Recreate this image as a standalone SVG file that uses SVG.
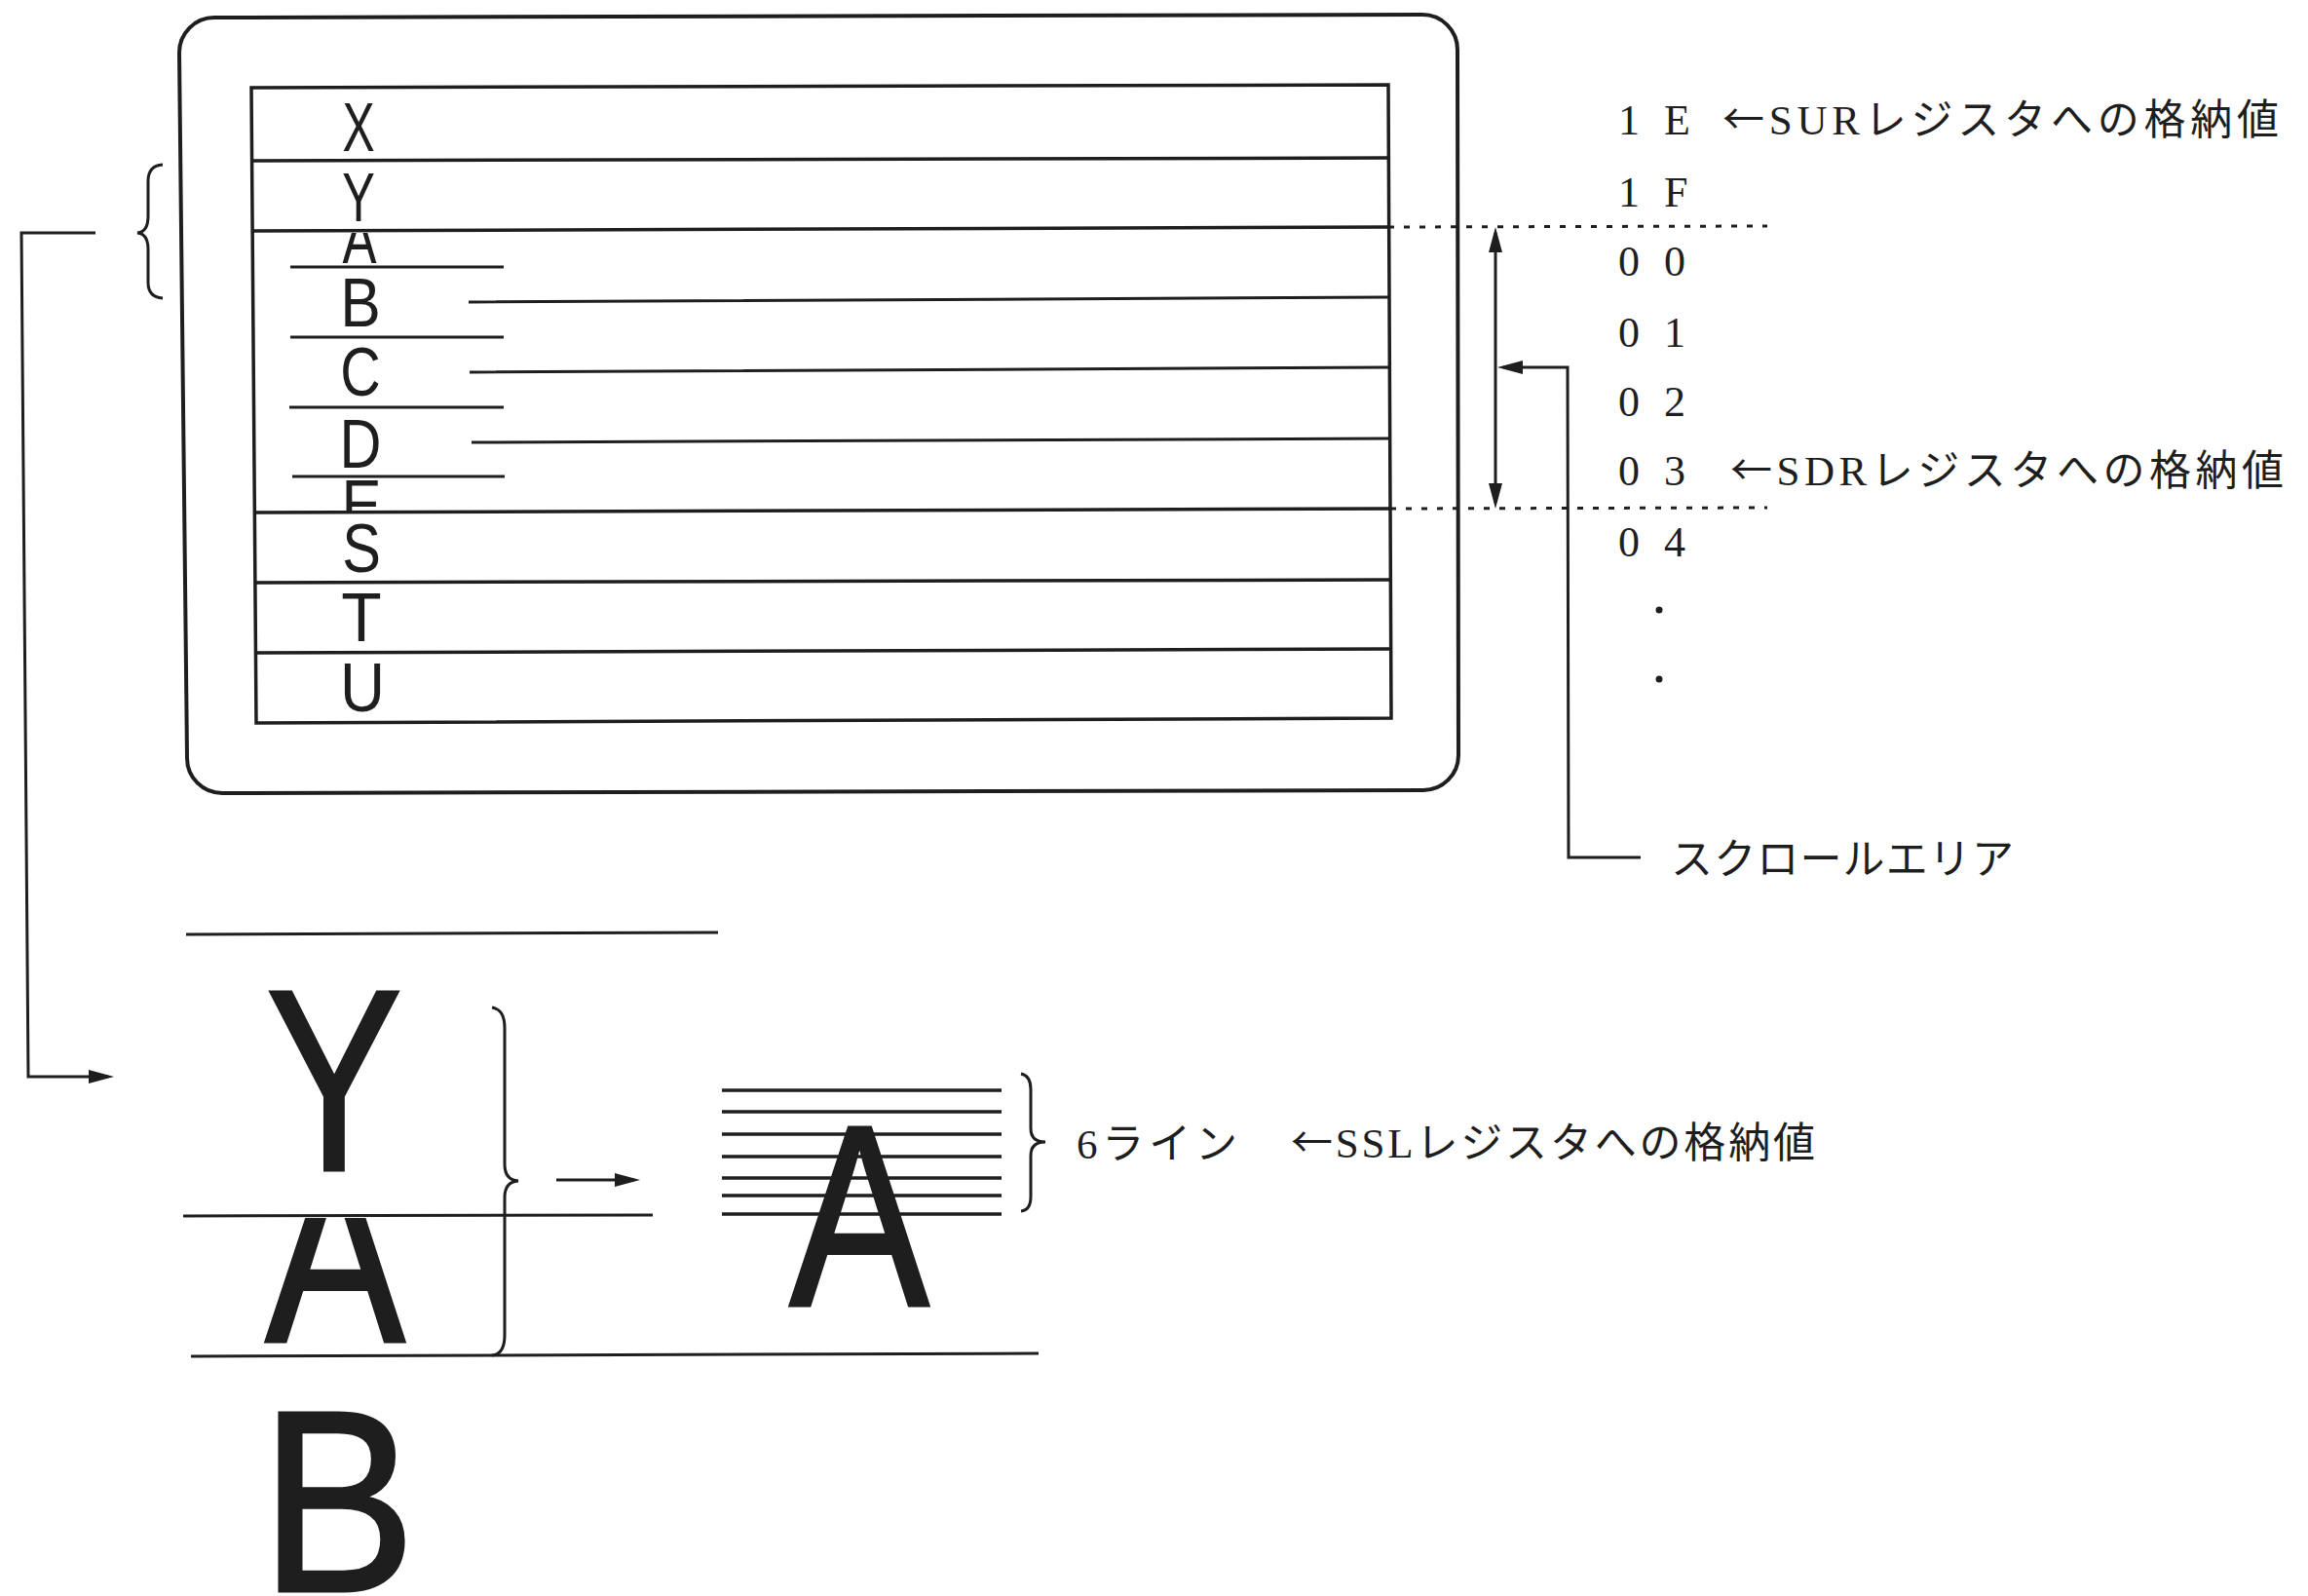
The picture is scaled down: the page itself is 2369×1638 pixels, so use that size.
<svg xmlns="http://www.w3.org/2000/svg" width="2369" height="1638" viewBox="0 0 2369 1638">
<style>
.ln{stroke:#1e1e1e;stroke-width:3.5;fill:none}
.th{stroke:#1e1e1e;stroke-width:3;fill:none}
.dt{stroke:#1e1e1e;stroke-width:3;stroke-dasharray:6 10;fill:none}
.sm{font-family:"Liberation Sans",Arial,sans-serif;font-size:70px;fill:#1e1e1e;text-anchor:middle}
.big{font-family:"Liberation Sans",Arial,sans-serif;font-size:266px;fill:#1e1e1e;stroke:#1e1e1e;stroke-width:3;text-anchor:middle}
.hex{font-family:"Liberation Serif","Noto Sans CJK JP",serif;font-size:44px;fill:#1e1e1e;letter-spacing:7px}
.jp{font-family:"Liberation Serif","Noto Sans CJK JP",serif;font-size:43px;fill:#1e1e1e}
.ar{font-family:"Noto Sans CJK JP",sans-serif}
</style>
<defs>
<marker id="ah" viewBox="0 0 26 14" refX="20" refY="7" markerWidth="26" markerHeight="14" markerUnits="userSpaceOnUse" orient="auto-start-reverse"><path d="M0,0 L26,7 L0,14 Z" fill="#1e1e1e"/></marker>
<clipPath id="cA"><rect x="300" y="239" width="150" height="34"/></clipPath>
<clipPath id="cE"><rect x="300" y="480" width="150" height="44"/></clipPath>
<clipPath id="cBigA"><rect x="200" y="1250" width="300" height="140"/></clipPath>
</defs>
<rect width="2369" height="1638" fill="#ffffff"/>

<g id="screen">
<path class="ln" style="stroke-width:4" d="M220,18 L1460,15 A36,36 0 0 1 1496,51 L1497,775 A36,36 0 0 1 1461,811 L228,814 A36,36 0 0 1 192,778 L184,54 A36,36 0 0 1 220,18 Z"/>
<path class="ln" d="M258,90 L1425,87 L1428,737 L263,742 Z"/>
<path class="ln" d="M258,165 L1425,162 M258,237 L1425,233 M260,526 L1427,522 M261,598 L1427,595 M262,670 L1428,666"/>
<path class="th" d="M481,310 L1425,305 M482,382 L1425,377 M484,454 L1426,450"/>
<path class="th" d="M298,274 L517,274 M298,346 L517,346 M297,418 L517,418 M300,489 L518,489"/>
</g>

<g id="rows">
<text class="sm" transform="translate(368,155) scale(0.71,1)">X</text>
<text class="sm" transform="translate(368,227) scale(0.72,1)">Y</text>
<g clip-path="url(#cA)"><text class="sm" transform="translate(369,270) scale(0.75,1)">A</text></g>
<text class="sm" transform="translate(370,335) scale(0.89,1)">B</text>
<text class="sm" transform="translate(370,406) scale(0.82,1)">C</text>
<text class="sm" transform="translate(370,480) scale(0.85,1)">D</text>
<g clip-path="url(#cE)"><text class="sm" transform="translate(371,542) scale(0.88,1)">E</text></g>
<text class="sm" transform="translate(371,587) scale(0.85,1)">S</text>
<text class="sm" transform="translate(371,658) scale(0.97,1)">T</text>
<text class="sm" transform="translate(372,730) scale(0.91,1)">U</text>
</g>

<g id="addresses">
<text class="hex" x="1661" y="138" xml:space="preserve">1 E</text>
<text class="hex" x="1661" y="212" xml:space="preserve">1 F</text>
<text class="hex" x="1661" y="283" xml:space="preserve">0 0</text>
<text class="hex" x="1661" y="356" xml:space="preserve">0 1</text>
<text class="hex" x="1661" y="427" xml:space="preserve">0 2</text>
<text class="hex" x="1661" y="498" xml:space="preserve">0 3</text>
<text class="hex" x="1661" y="571" xml:space="preserve">0 4</text>
<circle cx="1703" cy="626" r="3.5" fill="#1e1e1e"/>
<circle cx="1703" cy="697" r="3.5" fill="#1e1e1e"/>
</g>

<g id="labels">
<text class="jp" x="1768" y="138" textLength="571" lengthAdjust="spacing"><tspan class="ar">←</tspan>SURレジスタへの格納値</text>
<text class="jp" x="1776" y="498" textLength="568" lengthAdjust="spacing"><tspan class="ar">←</tspan>SDRレジスタへの格納値</text>
<text class="jp" x="1715" y="897" textLength="352" lengthAdjust="spacing">スクロールエリア</text>
<text class="jp" x="1105" y="1189" textLength="165" lengthAdjust="spacing">6ライン</text>
<text class="jp" x="1325" y="1188" textLength="538" lengthAdjust="spacing"><tspan class="ar">←</tspan>SSLレジスタへの格納値</text>
</g>

<g id="detail">
<path class="th" d="M191,959 L737,957 M188,1248 L670,1247 M196,1392 L1066,1389"/>
<path class="ln" d="M741,1119 L1028,1119 M741,1141 L1028,1141 M741,1164 L1028,1164 M741,1187 L1028,1187 M741,1209 L1028,1209 M741,1227 L1028,1227 M741,1246 L1028,1246"/>
<text class="big" transform="translate(343,1201) scale(0.79,1)">Y</text>
<g clip-path="url(#cBigA)"><text class="big" transform="translate(344,1377) scale(0.81,1)">A</text></g>
<text class="big" transform="translate(347,1633) scale(0.9,1)">B</text>
<text class="big" transform="translate(882,1340) scale(0.81,1)">A</text>
</g>

<g id="braces">
<path class="th" d="M167,169 Q152,170 152,186 L152,222 Q152,238 141,239 Q152,240 152,256 L152,290 Q152,305 167,306"/>
<path class="th" d="M505,1034 Q518,1036 518,1055 L518,1195 Q518,1211 532,1212 Q518,1213 518,1229 L518,1370 Q518,1390 505,1391"/>
<path class="th" d="M1048,1102 Q1058,1104 1058,1118 L1058,1158 Q1058,1172 1073,1172 Q1058,1172 1058,1186 L1058,1228 Q1058,1242 1048,1243"/>
</g>

<g id="connectors">
<path class="dt" d="M1425,233 L1814,232 M1427,522 L1814,521"/>
<path class="th" d="M1535,239 L1535,516" marker-start="url(#ah)" marker-end="url(#ah)"/>
<path class="th" d="M1684,880 L1610,880 L1609,377 L1543,377" marker-end="url(#ah)"/>
<path class="th" d="M98,239 L22,239 L29,1105 L111,1105" marker-end="url(#ah)"/>
<path class="th" d="M571,1211 L651,1211" marker-end="url(#ah)"/>
</g>
</svg>
